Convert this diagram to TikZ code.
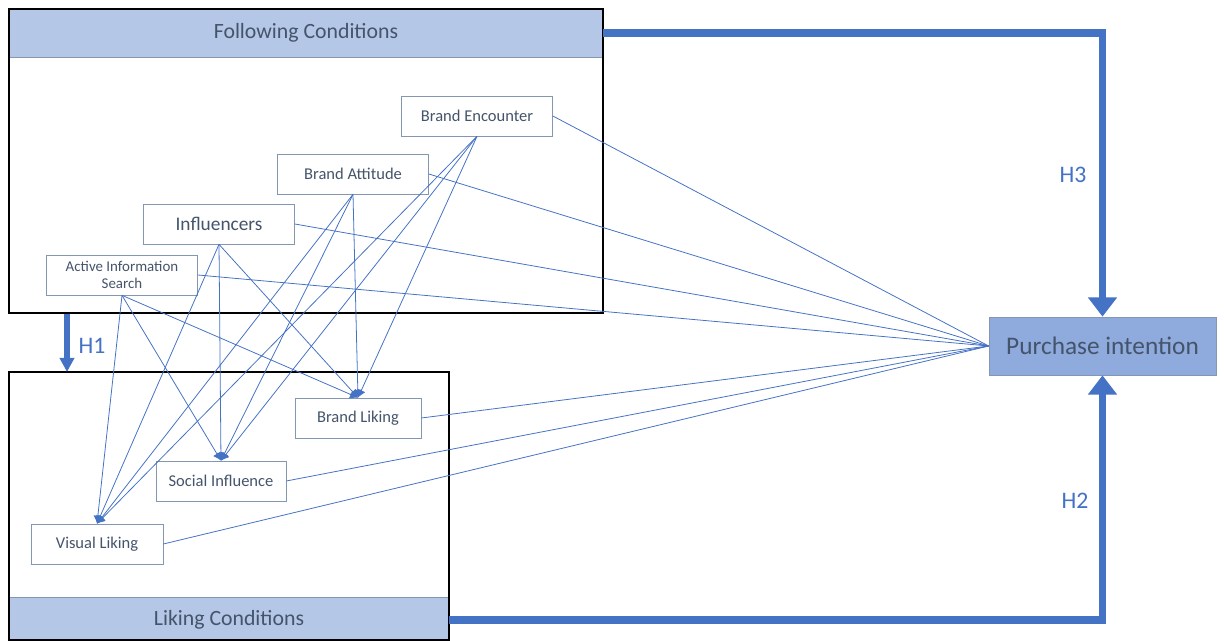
\documentclass[tikz,border=0pt]{standalone}
\usepackage{fontspec}
\setmainfont{Carlito}
\usetikzlibrary{arrows.meta}
\definecolor{hblue}{HTML}{4472C4}
\definecolor{hfill}{HTML}{B4C7E7}
\definecolor{pfill}{HTML}{8FAADC}
\definecolor{txt}{HTML}{44546A}
\definecolor{bord}{HTML}{8497B0}

\begin{document}
\begin{tikzpicture}[x=0.02cm,y=-0.02cm,
	var/.style={draw=bord,fill=white,text=txt,inner sep=0pt,minimum height=0.8cm,font=\fontsize{9.4}{11}\selectfont},
	head/.style={draw=bord,fill=hfill,text=txt,inner sep=0pt,font=\fontsize{12.4}{14}\selectfont},
	link/.style={draw=hblue,line width=0.45pt},
	tolink/.style={link,-{Latex[length=4.5pt,width=5pt]}},
	hyp/.style={draw=hblue,line width=4pt,-{Triangle[length=11pt,width=16pt]}},
	hlabel/.style={text=hblue,font=\fontsize{13.5}{15}\selectfont}]
	\useasboundingbox (0,0) rectangle (1224,641);
	
	% condition frames
	\node[head,minimum width=11.88cm,minimum height=0.96cm] (follow) at (306,33) {Following Conditions};
	\node[head,minimum width=8.8cm,minimum height=0.9cm] (liking) at (229,620) {Liking Conditions};
	\draw[black,line width=0.9pt] (9,9) rectangle (603,313);
	\draw[black,line width=0.9pt] (9,372) rectangle (449,640);
	
	% variables
	\node[var,minimum width=3.02cm] (enc) at (477,116) {Brand Encounter};
	\node[var,minimum width=3.02cm] (att) at (353,174) {Brand Attitude};
	\node[var,minimum width=3.02cm,font=\fontsize{11}{13}\selectfont] (infl) at (219,224) {Influencers};
	\node[var,minimum width=3.02cm,align=center,font=\fontsize{8.5}{10}\selectfont] (search) at (122,275) {Active Information\\Search};
	\node[var,minimum width=2.52cm] (bliking) at (358,418) {Brand Liking};
	\node[var,minimum width=2.6cm] (social) at (221,481) {Social Influence};
	\node[var,minimum width=2.64cm] (visual) at (97,544) {Visual Liking};
	\node[draw=bord,fill=pfill,text=txt,inner sep=0pt,minimum width=4.54cm,minimum height=1.16cm,
		font=\fontsize{14.4}{16}\selectfont] (purchase) at (1102.5,346) {Purchase intention};
	
	% following -> liking
	\foreach \s in {enc,att,infl,search}
	\foreach \t in {visual,social,bliking}
	\draw[tolink] (\s.south) -- (\t.north);
	
	% all -> purchase
	\foreach \s in {enc,att,infl,search,bliking,social,visual}
	\draw[link] (\s.east) -- (purchase.west);
	
	% hypotheses
	\coordinate (h1a) at (67,314);
	\coordinate (h1b) at (67,372);
	\draw[hyp,line width=3.4pt,-{Triangle[length=8pt,width=8pt]}] (h1a) -- (h1b);
	\node[hlabel] (h1) at (92,346) {H1};
	\draw[hyp] (follow.east) -| (purchase.north);
	\node[hlabel] (h3) at (1073,175) {H3};
	\draw[hyp] (liking.east) -| (purchase.south);
	\node[hlabel] (h2) at (1075,501) {H2};
\end{tikzpicture}
\end{document}
